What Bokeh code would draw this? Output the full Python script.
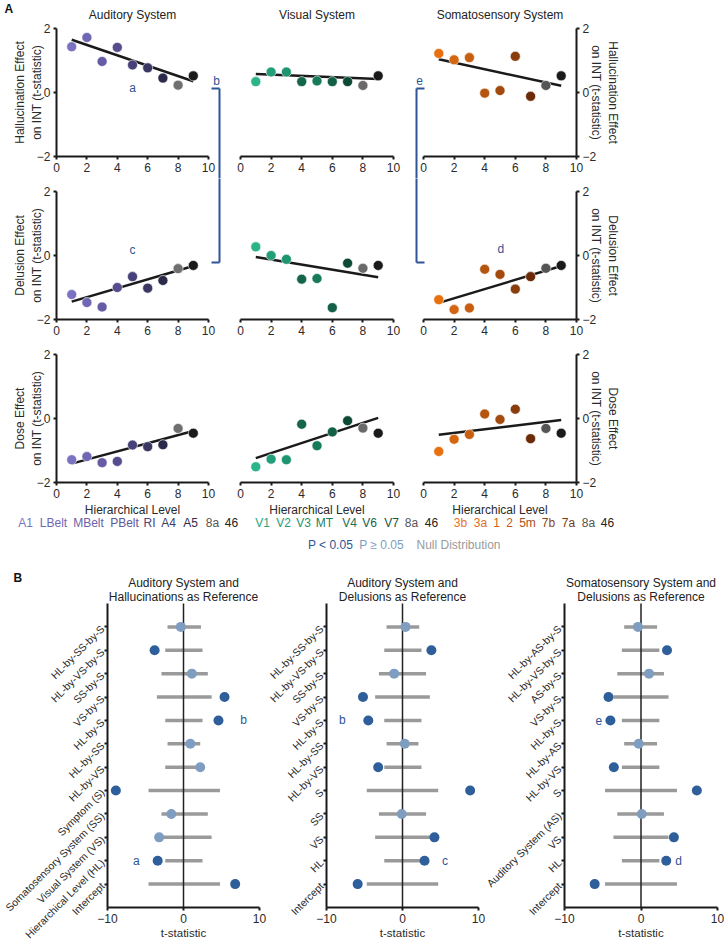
import math
from bokeh.plotting import figure
from bokeh.layouts import column, row
from bokeh.models import Range1d, FixedTicker, Label, Arrow, ColumnDataSource, LinearAxis
from bokeh.core.properties import value
from bokeh.embed import file_html
from bokeh.resources import INLINE

# ---------------- data: panel A ----------------
levels = [1, 2, 3, 4, 5, 6, 7, 8, 9]
fit_x = [1, 9]
x_ticks = [0, 2, 4, 6, 8, 10]
y_ticks = [-2, 0, 2]

aud_regions = ["A1", "LBelt", "MBelt", "PBelt", "RI", "A4", "A5", "8a", "46"]
vis_regions = ["V1", "V2", "V3", "MT", "V4", "V6", "V7", "8a", "46"]
som_regions = ["3b", "3a", "1", "2", "5m", "7b", "7a", "8a", "46"]

aud_halluc = [1.43, 1.72, 0.97, 1.41, 0.86, 0.77, 0.45, 0.23, 0.52]
vis_halluc = [0.34, 0.64, 0.64, 0.34, 0.36, 0.34, 0.34, 0.22, 0.52]
som_halluc = [1.22, 1.02, 1.09, -0.02, 0.06, 1.13, -0.12, 0.22, 0.52]
aud_delus = [-1.22, -1.47, -1.61, -1.00, -0.66, -1.02, -0.78, -0.41, -0.31]
vis_delus = [0.27, 0.00, -0.12, -0.74, -0.72, -1.63, -0.24, -0.40, -0.31]
som_delus = [-1.38, -1.69, -1.64, -0.43, -0.59, -1.05, -0.66, -0.40, -0.31]
aud_dose = [-1.29, -1.19, -1.38, -1.34, -0.83, -0.88, -0.82, -0.31, -0.46]
vis_dose = [-1.51, -1.27, -1.29, -0.18, -0.85, -0.42, -0.07, -0.30, -0.46]
som_dose = [-1.03, -0.65, -0.50, 0.14, -0.03, 0.29, -0.63, -0.31, -0.46]

aud_halluc_fit = [1.65, 0.35]
vis_halluc_fit = [0.58, 0.42]
som_halluc_fit = [1.04, 0.21]
aud_delus_fit = [-1.44, -0.33]
vis_delus_fit = [-0.05, -0.68]
som_delus_fit = [-1.48, -0.33]
aud_dose_fit = [-1.41, -0.39]
vis_dose_fit = [-1.24, 0.02]
som_dose_fit = [-0.51, -0.05]

# ---------------- data: panel B (bottom row first) ----------------
terms_ah = ["Intercept", "Hierarchical Level (HL)", "Visual System (VS)",
            "Somatosensory System (SS)", "Symptom (S)", "HL-by-VS", "HL-by-SS",
            "HL-by-S", "VS-by-S", "SS-by-S", "HL-by-VS-by-S", "HL-by-SS-by-S"]
t_ah = [6.8, -3.4, -3.2, -1.6, -8.9, 2.2, 0.9, 4.6, 5.4, 1.1, -3.8, -0.35]
sig_ah = [1, 1, 0, 0, 1, 0, 0, 1, 1, 0, 1, 0]
lo_ah = [-4.6, -2.4, -3.5, -2.9, -4.6, -2.4, -2.1, -2.4, -3.5, -2.9, -2.4, -2.1]
hi_ah = [4.8, 2.5, 3.7, 3.2, 4.8, 2.5, 2.2, 2.5, 3.7, 3.2, 2.5, 2.3]

terms_ad = ["Intercept", "HL", "VS", "SS", "S", "HL-by-VS", "HL-by-SS",
            "HL-by-S", "VS-by-S", "SS-by-S", "HL-by-VS-by-S", "HL-by-SS-by-S"]
t_ad = [-5.9, 2.9, 4.2, -0.1, 8.9, -3.2, 0.3, -4.5, -5.2, -1.1, 3.8, 0.4]
sig_ad = [1, 1, 1, 0, 1, 1, 0, 1, 1, 0, 1, 0]
lo_ad = [-4.7, -2.4, -3.6, -3.1, -4.7, -2.4, -2.1, -2.4, -3.6, -3.1, -2.4, -2.1]
hi_ad = [4.7, 2.5, 3.6, 3.1, 4.7, 2.5, 2.1, 2.5, 3.6, 3.1, 2.5, 2.2]

terms_sd = ["Intercept", "HL", "VS", "Auditory System (AS)", "S", "HL-by-VS",
            "HL-by-AS", "HL-by-S", "VS-by-S", "AS-by-S", "HL-by-VS-by-S", "HL-by-AS-by-S"]
t_sd = [-6.05, 3.3, 4.3, 0.1, 7.3, -3.55, -0.3, -4.0, -4.25, 1.05, 3.4, -0.4]
sig_sd = [1, 1, 1, 0, 1, 1, 0, 1, 1, 0, 1, 0]
lo_sd = [-4.7, -2.5, -3.6, -3.1, -4.7, -2.5, -2.2, -2.5, -3.6, -3.1, -2.5, -2.2]
hi_sd = [4.7, 2.4, 3.6, 3.0, 4.7, 2.4, 2.1, 2.4, 3.6, 3.0, 2.4, 2.1]

# ---------------- styles ----------------
FONT = "Liberation Sans"
BLUE = "#2e5596"
SIG = "#2f5f9b"
NS = "#7f9dc0"
NULL = "#9a9a9a"
INK = "#1a1a1a"
TXT = "#2a2a2a"

aud_colors = ["#7b72c2", "#6f66b4", "#665ca6", "#544c8c", "#474179", "#3a3763", "#2c2a4b", "#707070", "#1a1a1a"]
vis_colors = ["#2bb389", "#229e78", "#1f9470", "#13664b", "#177a5a", "#126048", "#0d4a35", "#6a6a6a", "#1a1a1a"]
som_colors = ["#e8700e", "#d46511", "#c85f10", "#b4560f", "#a34b0f", "#8a3d0c", "#6b2b08", "#555555", "#1a1a1a"]
aud_label_colors = ["#7b72c2", "#7068b5", "#6a61aa", "#5f5798", "#4c4680", "#3d3a68", "#2e2c4d", "#555555", "#222222"]
vis_label_colors = ["#2aa37f", "#279a77", "#249170", "#1f7f62", "#1b7157", "#18624c", "#155541", "#555555", "#222222"]
som_label_colors = ["#e8742a", "#dc6d28", "#cc6322", "#bf5d20", "#a9501a", "#8f4416", "#7a3a12", "#555555", "#222222"]

# ---------------- layout geometry (page pixels) ----------------
# columns: canvas left, canvas width, frame px of x-min, frame px of x-max
A_COLS = {"a": (0, 225, 56, 208), "v": (225, 185, 240, 393), "s": (410, 230, 423, 576)}
# rows: canvas top, canvas height, frame px of y-max, frame px of y-min
A_ROWS = [(0, 178, 28, 156), (178, 163, 191, 319), (341, 175, 354, 482)]
STRIP = (516, 42)
B_COLS = [(0, 268, 107, 259), (268, 217, 326, 478), (485, 239, 564, 717)]
B_ROW = (558, 387, 603, 907)


class Frame:
    def __init__(self, col, rw, xlim, ylim):
        cx0, cw, fx0, fx1 = col
        cy0, ch, fy0, fy1 = rw
        self.cx0, self.cy0, self.cw, self.ch = cx0, cy0, cw, ch
        self.sx = (fx1 - fx0) / (xlim[1] - xlim[0])
        self.sy = (fy1 - fy0) / (ylim[1] - ylim[0])
        self.fx0, self.fy1, self.x0, self.y0 = fx0, fy1, xlim[0], ylim[0]

    def px2x(self, px):
        return self.x0 + (px - self.fx0) / self.sx

    def py2y(self, py):
        return self.y0 + (self.fy1 - py) / self.sy

    def figure(self):
        p = figure(width=self.cw, height=self.ch,
                   x_range=Range1d(self.px2x(self.cx0), self.px2x(self.cx0 + self.cw)),
                   y_range=Range1d(self.py2y(self.cy0 + self.ch), self.py2y(self.cy0)),
                   output_backend="svg", toolbar_location=None, title=None,
                   x_axis_location=None, y_axis_location=None,
                   min_border_left=0, min_border_right=0, min_border_top=0, min_border_bottom=0)
        p.xgrid.visible = False
        p.ygrid.visible = False
        p.outline_line_color = None
        return p


def style_axis(ax, tick_size="12px"):
    ax.axis_line_width = 2
    ax.axis_line_color = INK
    ax.major_tick_line_width = 2
    ax.major_tick_line_color = INK
    ax.major_tick_out = 3
    ax.major_tick_in = 0
    ax.minor_tick_line_color = None
    ax.major_label_text_font = FONT
    ax.major_label_text_font_size = tick_size
    ax.major_label_text_color = TXT
    ax.major_label_standoff = 3
    ax.axis_label_text_font = FONT
    ax.axis_label_text_font_size = "12px"
    ax.axis_label_text_font_style = "normal"
    ax.axis_label_text_color = TXT
    ax.axis_label_standoff = 3


def text(p, x, y, t, size="12px", color=TXT, bold=False, align="center"):
    p.add_layout(Label(x=x, y=y, text=t, text_color=color, text_font=FONT,
                       text_font_size=size, text_align=align, text_baseline="middle",
                       text_font_style="bold" if bold else "normal"))


def seg(p, fr, px0, py0, px1, py1):
    p.add_layout(Arrow(start=None, end=None,
                       x_start=fr.px2x(px0), y_start=fr.py2y(py0),
                       x_end=fr.px2x(px1), y_end=fr.py2y(py1),
                       line_color=BLUE, line_width=2))


def panel_a(col, ri, ys, fit, colors, ylabel=None, xlabel=None):
    fr = Frame(A_COLS[col], A_ROWS[ri], (0, 10), (-2, 2))
    p = fr.figure()
    xa = LinearAxis(fixed_location=-2, bounds=(0, 10), ticker=FixedTicker(ticks=x_ticks))
    if xlabel:
        xa.axis_label = xlabel
    style_axis(xa)
    xa.axis_label_standoff = 2
    p.add_layout(xa, "below")
    if col in ("a", "s"):
        ya = LinearAxis(fixed_location=0 if col == "a" else 10, bounds=(-2, 2),
                        ticker=FixedTicker(ticks=y_ticks), axis_label=ylabel)
        style_axis(ya)
        ya.axis_label_standoff = -10
        p.add_layout(ya, "left" if col == "a" else "right")
    p.line(fit_x, fit, line_color=INK, line_width=2.5)
    src = ColumnDataSource(dict(x=levels, y=ys, c=colors))
    p.scatter("x", "y", source=src, size=10, fill_color="c", line_color="white", line_width=0.6)
    return p, fr


YL_H = "Hallucination Effect\non INT (t-statistic)"
YL_D = "Delusion Effect\non INT (t-statistic)"
YL_O = "Dose Effect\non INT (t-statistic)"
XL = "Hierarchical Level"

a1, fa1 = panel_a("a", 0, aud_halluc, aud_halluc_fit, aud_colors, YL_H)
v1, fv1 = panel_a("v", 0, vis_halluc, vis_halluc_fit, vis_colors)
s1, fs1 = panel_a("s", 0, som_halluc, som_halluc_fit, som_colors, YL_H)
a2, fa2 = panel_a("a", 1, aud_delus, aud_delus_fit, aud_colors, YL_D)
v2, fv2 = panel_a("v", 1, vis_delus, vis_delus_fit, vis_colors)
s2, fs2 = panel_a("s", 1, som_delus, som_delus_fit, som_colors, YL_D)
a3, fa3 = panel_a("a", 2, aud_dose, aud_dose_fit, aud_colors, YL_O, XL)
v3, fv3 = panel_a("v", 2, vis_dose, vis_dose_fit, vis_colors, None, XL)
s3, fs3 = panel_a("s", 2, som_dose, som_dose_fit, som_colors, YL_O, XL)

# column titles
for p, fr, t in [(a1, fa1, "Auditory System"), (v1, fv1, "Visual System"),
                 (s1, fs1, "Somatosensory System")]:
    text(p, 5, fr.py2y(14), t, size="12px", color="#222222")

text(a1, fa1.px2x(4), fa1.py2y(8), "A", size="12px", color="#111111", bold=True, align="left")
text(a1, 5.0, 0.13, "a", color=BLUE)
text(a2, 5.0, 0.18, "c", color=BLUE)
text(s2, 5.05, 0.21, "d", color=BLUE)
text(a1, fa1.px2x(216), fa1.py2y(80), "b", color=BLUE)
text(s1, fs1.px2x(419), fs1.py2y(80), "e", color=BLUE)

# bracket b
seg(a1, fa1, 219, 88, 219, 190)
seg(a1, fa1, 211, 88, 219, 88)
seg(a2, fa2, 219, 170, 219, 262)
seg(a2, fa2, 211, 262, 219, 262)
# bracket e
seg(s1, fs1, 416, 88, 416, 190)
seg(s1, fs1, 416, 88, 424, 88)
seg(s2, fs2, 416, 170, 416, 262)
seg(s2, fs2, 416, 262, 424, 262)

# ---------------- region names + legend strip ----------------
aud_label_px = [25, 53, 88, 124, 149, 168, 190, 212, 231]
vis_label_px = [262, 283, 303, 324, 349, 369, 391, 411, 431]
som_label_px = [460, 480, 496, 509, 527, 548, 568, 588, 607]
legend_names = ["P < 0.05", "P \u2265 0.05", "Null Distribution"]
legend_cols = [BLUE, NS, NULL]
legend_px = [330, 381, 458]

lab = figure(width=726, height=STRIP[1], x_range=Range1d(0, 726),
             y_range=Range1d(STRIP[0] + STRIP[1], STRIP[0]),
             output_backend="svg", toolbar_location=None, title=None,
             x_axis_location=None, y_axis_location=None,
             min_border_left=0, min_border_right=0, min_border_top=0, min_border_bottom=0)
lab.xgrid.visible = False
lab.ygrid.visible = False
lab.outline_line_color = None
for names, xs, cols in [(aud_regions, aud_label_px, aud_label_colors),
                        (vis_regions, vis_label_px, vis_label_colors),
                        (som_regions, som_label_px, som_label_colors)]:
    lab.text(x=xs, y=[522] * len(xs), text=names, text_color=cols, text_align="center",
             text_baseline="middle", text_font=value(FONT), text_font_size="12px")
lab.text(x=legend_px, y=[544] * 3, text=legend_names, text_color=legend_cols, text_align="center",
         text_baseline="middle", text_font=value(FONT), text_font_size="12px")


# ---------------- panel B ----------------
def panel_b(ci, title1, title2, terms, tvals, sig, lo, hi):
    ylim = (0, len(terms) + 1)
    fr = Frame(B_COLS[ci], B_ROW, (-10, 10), ylim)
    p = fr.figure()
    ys = list(range(1, len(terms) + 1))
    p.segment(x0=lo, y0=ys, x1=hi, y1=ys, line_color=NULL, line_width=3.5)
    p.segment(x0=[0], y0=[ylim[0]], x1=[0], y1=[ylim[1]], line_color="#222222", line_width=1.5)
    cols = [SIG if s else NS for s in sig]
    p.scatter(x=tvals, y=ys, size=10, fill_color=cols, line_color=None)
    xa = LinearAxis(fixed_location=ylim[0], bounds=(-10, 10), ticker=FixedTicker(ticks=[-10, 0, 10]),
                    axis_label="t-statistic")
    style_axis(xa, "12px")
    xa.axis_label_text_font_size = "11.5px"
    xa.axis_label_standoff = 1
    p.add_layout(xa, "below")
    ya = LinearAxis(fixed_location=-10, bounds=ylim, ticker=FixedTicker(ticks=ys))
    ya.major_label_overrides = {y: t for y, t in zip(ys, terms)}
    style_axis(ya, "10.5px")
    ya.major_label_orientation = math.pi / 4
    ya.major_label_standoff = 2
    p.add_layout(ya, "left")
    text(p, 0, fr.py2y(582), title1, size="12px", color="#222222")
    text(p, 0, fr.py2y(596), title2, size="12px", color="#222222")
    return p, fr


b1, fb1 = panel_b(0, "Auditory System and", "Hallucinations as Reference",
                  terms_ah, t_ah, sig_ah, lo_ah, hi_ah)
b2, fb2 = panel_b(1, "Auditory System and", "Delusions as Reference",
                  terms_ad, t_ad, sig_ad, lo_ad, hi_ad)
b3, fb3 = panel_b(2, "Somatosensory System and", "Delusions as Reference",
                  terms_sd, t_sd, sig_sd, lo_sd, hi_sd)

text(b1, fb1.px2x(13), fb1.py2y(577), "B", size="12px", color="#111111", bold=True, align="left")
text(b1, -6.2, 2, "a", color=BLUE)
text(b1, 7.9, 8, "b", color=BLUE)
text(b2, -7.9, 8, "b", color=BLUE)
text(b2, 5.6, 2, "c", color=BLUE)
text(b3, -5.5, 8, "e", color=BLUE)
text(b3, 4.9, 2, "d", color=BLUE)

layout = column(row(a1, v1, s1), row(a2, v2, s2), row(a3, v3, s3), lab, row(b1, b2, b3))

open("out.html", "w").write(file_html(layout, INLINE))
